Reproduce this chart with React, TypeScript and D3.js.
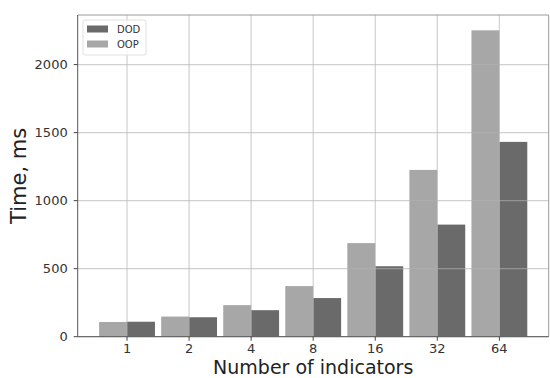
import React from "react";
import * as d3 from "d3";

const categories = ["1", "2", "4", "8", "16", "32", "64"];
const oopValues = [108, 148, 232, 372, 688, 1226, 2252];
const dodValues = [110, 143, 195, 284, 518, 824, 1432];
const yTicks = [0, 500, 1000, 1500, 2000];
const seriesNames = ["DOD", "OOP"];

const W = 550;
const H = 378;
const left = 77.7;
const right = 548.7;
const top = 15;
const bottom = 336.7;

const DOD_COLOR = "#6a6a6a";
const OOP_COLOR = "#a7a7a7";
const FONT = "'DejaVu Sans', sans-serif";

export default function App() {
  const barW = 0.45;
  const n = categories.length;
  const x = d3.scaleLinear().domain([-0.795, n - 1 + 0.795]).range([left, right]);
  const yMax = d3.max(oopValues.concat(dodValues)) as number;
  const y = d3.scaleLinear().domain([0, yMax * 1.05]).range([bottom, top]);

  return (
    <svg
      width={W}
      height={H}
      style={{ position: "absolute", left: 0, top: 0, background: "#fff" }}
    >
      <rect x={0} y={0} width={W} height={H} fill="#fff" />
      {/* bars */}
      {categories.map((c, i) => (
        <g key={c}>
          <rect
            x={x(i - barW)}
            y={y(oopValues[i])}
            width={x(i) - x(i - barW)}
            height={y(0) - y(oopValues[i])}
            fill={OOP_COLOR}
          />
          <rect
            x={x(i)}
            y={y(dodValues[i])}
            width={x(i + barW) - x(i)}
            height={y(0) - y(dodValues[i])}
            fill={DOD_COLOR}
          />
        </g>
      ))}
      {/* grid on top */}
      {yTicks.map((t) => (
        <line
          key={"gy" + t}
          x1={left}
          x2={right}
          y1={y(t)}
          y2={y(t)}
          stroke="#b0b0b0"
          strokeOpacity={0.6}
          strokeWidth={1.2}
        />
      ))}
      {categories.map((c, i) => (
        <line
          key={"gx" + c}
          x1={x(i)}
          x2={x(i)}
          y1={top}
          y2={bottom}
          stroke="#b0b0b0"
          strokeOpacity={0.6}
          strokeWidth={1.2}
        />
      ))}
      {/* spines */}
      <line x1={left} x2={right} y1={top} y2={top} stroke="#9a9a9a" strokeWidth={1} />
      <line x1={right} x2={right} y1={top} y2={bottom} stroke="#9a9a9a" strokeWidth={1} />
      <line x1={left} x2={left} y1={top} y2={bottom} stroke="#555" strokeWidth={1} />
      <line x1={left} x2={right} y1={bottom} y2={bottom} stroke="#555" strokeWidth={1} />
      {/* y ticks */}
      {yTicks.map((t) => (
        <g key={"yt" + t}>
          <line x1={left - 4} x2={left} y1={y(t)} y2={y(t)} stroke="#444" />
          <text
            x={left - 10}
            y={y(t) + 4.6}
            textAnchor="end"
            fontFamily={FONT}
            fontSize={13}
            fill="#333"
          >
            {t}
          </text>
        </g>
      ))}
      {/* x ticks */}
      {categories.map((c, i) => (
        <g key={"xt" + c}>
          <line x1={x(i)} x2={x(i)} y1={bottom} y2={bottom + 4} stroke="#444" />
          <text
            x={x(i)}
            y={bottom + 15.8}
            textAnchor="middle"
            fontFamily={FONT}
            fontSize={13}
            fill="#333"
          >
            {c}
          </text>
        </g>
      ))}
      {/* axis labels */}
      <text
        x={(left + right) / 2}
        y={373.5}
        textAnchor="middle"
        fontFamily={FONT}
        fontSize={19}
        fill="#222"
      >
        Number of indicators
      </text>
      <text
        transform={`translate(26,${(top + bottom) / 2}) rotate(-90)`}
        textAnchor="middle"
        fontFamily={FONT}
        fontSize={21}
        fill="#222"
      >
        Time, ms
      </text>
      {/* legend */}
      <rect
        x={83}
        y={20}
        width={63}
        height={35}
        fill="#fff"
        fillOpacity={0.8}
        stroke="#e0e0e0"
        rx={2}
      />
      {seriesNames.map((s, i) => (
        <g key={s}>
          <rect
            x={87}
            y={25.5 + i * 15}
            width={21}
            height={7}
            fill={s === "DOD" ? DOD_COLOR : OOP_COLOR}
          />
          <text
            x={117}
            y={33 + i * 15}
            fontFamily={FONT}
            fontSize={10}
            fill="#333"
          >
            {s}
          </text>
        </g>
      ))}
    </svg>
  );
}
